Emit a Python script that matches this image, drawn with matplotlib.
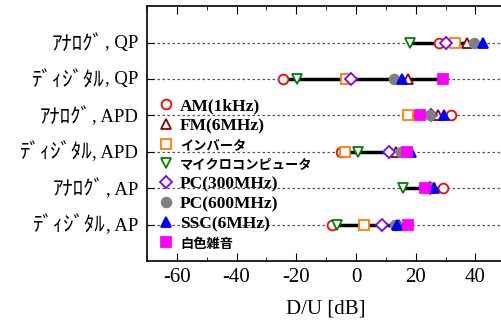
import numpy as np
import matplotlib
matplotlib.use("Agg")
import matplotlib.pyplot as plt
from matplotlib.ticker import MultipleLocator

plt.rcParams['font.family'] = ['Liberation Serif', 'Noto Sans CJK JP']
plt.rcParams['axes.unicode_minus'] = False

row_kana = ["ｱﾅﾛｸﾞ", "ﾃﾞｨｼﾞﾀﾙ", "ｱﾅﾛｸﾞ", "ﾃﾞｨｼﾞﾀﾙ", "ｱﾅﾛｸﾞ", "ﾃﾞｨｼﾞﾀﾙ"]
row_det = [", QP", ", QP", ", APD", ", APD", ", AP", ", AP"]
series_names = ["AM(1kHz)", "FM(6MHz)", "インバータ", "マイクロコンピュータ",
                "PC(300MHz)", "PC(600MHz)", "SSC(6MHz)", "白色雑音"]
nan = np.nan
# values per series, one per row (nan = not shown)
am      = [27.9, -24.4, 31.7, -5.1, 29.2, -8.1]
fm      = [37.1, 17.4, 27.5, 13.5, 25.5, 14.5]
inverter= [33.2, -3.4, 17.4, -3.6, 24.8, 2.8]
micro   = [18.0, -19.7, nan, 0.6, 15.7, -6.4]
pc300   = [30.0, -1.5, 25.1, 11.2, 24.7, 8.7]
pc600   = [39.6, 12.9, 24.7, 15.2, 25.0, 13.2]
ssc     = [42.5, 15.4, 29.5, 18.5, 26.1, 13.8]
white   = [nan, 29.0, 21.6, 17.1, 23.0, 17.4]
series = [am, fm, inverter, micro, pc300, pc600, ssc, white]

styles = [
    dict(marker='o', mfc='white', mec='#ff0000'),
    dict(marker='^', mfc='white', mec='#8b0000'),
    dict(marker='s', mfc='white', mec='#ff8000'),
    dict(marker='v', mfc='white', mec='#008000'),
    dict(marker='D', mfc='white', mec='#8000ff', ms=6),
    dict(marker='o', mfc='#808080', mec='#808080'),
    dict(marker='^', mfc='#0000ff', mec='#0000ff'),
    dict(marker='s', mfc='#ff00ff', mec='#ff00ff'),
]

fig = plt.figure(figsize=(5.01, 3.21), dpi=100)
ax = fig.add_axes([0.2934, 0.187, 0.715, 0.794])

ypos = np.arange(len(row_kana))
data = np.array(series, dtype=float)
for i, y in enumerate(ypos):
    ax.axhline(y, color='#555555', ls=(0, (2, 2)), lw=0.9, zorder=1)
    col = data[:, i]
    ax.plot([np.nanmin(col), np.nanmax(col)], [y, y], color='black', lw=2.5, zorder=2)

for name, vals, st in zip(series_names, series, styles):
    st = dict(st)
    ms = st.pop('ms', 7)
    ax.plot(vals, ypos, ls='none', ms=ms, mew=1.3, label=name, zorder=3, **st)

ax.set_xlim(-70, 50)
ax.set_ylim(6, -1)
ax.set_yticks(ypos)
ax.set_yticklabels([])
ax.xaxis.set_major_locator(MultipleLocator(20))
ax.xaxis.set_minor_locator(MultipleLocator(10))
ax.tick_params(axis='both', which='both', direction='in', top=True, right=False)
ax.tick_params(axis='x', which='major', length=6, labelsize=15, pad=5)
ax.tick_params(axis='x', which='minor', length=3)
ax.tick_params(axis='y', length=5)
ax.spines['right'].set_visible(False)
for s in ['left', 'bottom', 'top']:
    ax.spines[s].set_linewidth(1.2)
ax.set_xlabel("D/U [dB]", fontsize=15, labelpad=9)

# row labels: Latin part + half-width kana part
ytr = ax.get_yaxis_transform()
for y, kana, det in zip(ypos, row_kana, row_det):
    t1 = ax.annotate(det, xy=(0, y), xycoords=ytr, xytext=(-6.5, -4.0),
                     textcoords='offset points', ha='right', va='baseline',
                     fontsize=13.5, annotation_clip=False)
    ax.annotate(kana, xy=(0, y), xycoords=(t1, ytr), xytext=(-0.5, -5.2),
                textcoords='offset points', ha='right', va='baseline',
                fontsize=15, family=['Noto Sans CJK JP'], annotation_clip=False)

leg = ax.legend(loc='upper left', bbox_to_anchor=(0.0, 0.68), frameon=False,
                prop={'family': ['Liberation Serif', 'Noto Sans CJK JP'],
                      'weight': 'bold', 'size': 12.5},
                handletextpad=0.3, labelspacing=0.22, handlelength=1.0,
                borderaxespad=0.2)
for t in leg.get_texts():
    if t.get_text() in ("インバータ", "マイクロコンピュータ", "白色雑音"):
        t.set_fontsize(9.5)

fig.savefig("out.png", dpi=100)
